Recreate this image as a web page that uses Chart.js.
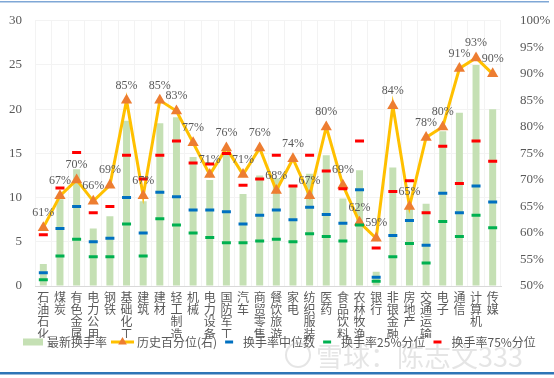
<!DOCTYPE html>
<html>
<head>
<meta charset="utf-8">
<script src="https://cdn.jsdelivr.net/npm/chart.js@4.4.1/dist/chart.umd.min.js"></script>
<style>
html, body { margin: 0; padding: 0; background: #fff; }
</style>
</head>
<body>
<canvas id="myChart" width="554" height="378"></canvas>
<script>
// industries (x axis), drawn as vertical text
var industries = ['石油石化','煤炭','有色金属','电力公用','钢铁','基础化工','建筑','建材','轻工制造','机械',
    '电力设备','国防军工','汽车','商贸零售','餐饮旅游','家电','纺织服装','医药','食品饮料','农林牧渔',
    '银行','非银金融','房地产','交通运输','电子','通信','计算机','传媒'];

// latest turnover (left axis)
var latestTurnover = [2.5, 9.8, 13.2, 6.5, 7.9, 18.7, 9.6, 18.4, 19.1, 14.6,
    12.0, 15.0, 10.4, 12.5, 12.2, 11.3, 12.7, 14.8, 9.9, 13.1,
    1.6, 13.4, 8.9, 9.3, 17.5, 19.6, 25.0, 20.0];

// historical percentile, % (right axis)
var histPercentile = [61, 67, 70, 66, 69, 85, 67, 85, 83, 77,
    71, 76, 71, 76, 68, 74, 67, 80, 69, 62,
    59, 84, 65, 78, 80, 91, 93, 90];

// turnover median / 25% / 75% quantiles (left axis)
var turnoverMedian = [1.5, 6.5, 9.0, 5.0, 5.4, 10.0, 6.0, 10.6, 10.1, 8.6,
    8.6, 8.4, 7.0, 8.0, 8.6, 7.5, 8.9, 8.1, 7.1, 10.9,
    1.0, 5.7, 7.4, 4.6, 10.5, 8.3, 11.3, 9.5];
var turnoverQ25 = [0.7, 3.4, 5.3, 3.3, 3.3, 7.0, 3.4, 7.6, 6.9, 6.0,
    5.5, 4.9, 4.9, 5.1, 5.3, 5.0, 5.9, 5.6, 5.1, 6.9,
    0.55, 3.3, 4.8, 2.6, 7.3, 5.6, 8.0, 6.6];
var turnoverQ75 = [5.8, 11.1, 15.1, 8.3, 9.0, 14.8, 12.1, 14.8, 16.4, 13.9,
    13.8, 15.0, 11.4, 12.1, 14.8, 11.3, 14.8, 13.0, 11.0, 16.4,
    4.3, 10.7, 11.9, 8.3, 15.8, 11.6, 16.4, 14.1];

var leftTicks = [0, 5, 10, 15, 20, 25, 30];
var rightTicks = [50, 55, 60, 65, 70, 75, 80, 85, 90, 95, 100];

var serif = '"Liberation Serif", "Times New Roman", serif';
var cjk = '"Noto Sans CJK SC", sans-serif';
var grey = '#595959';

var legendItems = [
    { type: 'rect', color: '#C5E0B4', text: '最新换手率' },
    { type: 'tri', color: '#FFC000', text: '历史百分位(右)' },
    { type: 'dash', color: '#0070C0', text: '换手率中位数' },
    { type: 'dash', color: '#00B050', text: '换手率25%分位' },
    { type: 'dash', color: '#FF0000', text: '换手率75%分位' }
];

function drawTri(c, x, y, r, color) {
    c.beginPath();
    c.moveTo(x, y - r);
    c.lineTo(x + r * 0.866, y + r * 0.5);
    c.lineTo(x - r * 0.866, y + r * 0.5);
    c.closePath();
    c.fillStyle = color;
    c.fill();
}

var extras = {
    id: 'extras',
    beforeDraw: function(chart) {
        var c = chart.ctx;
        c.save();
        c.fillStyle = '#7FA7D6';
        c.fillRect(0, 1, 549, 1.5);
        c.fillStyle = '#2E75B6';
        c.fillRect(0, 372, 554, 2.5);
        c.restore();
    },
    afterDatasetsDraw: function(chart) {
        // percentile labels above the triangles
        var c = chart.ctx;
        var meta = chart.getDatasetMeta(1);
        c.save();
        c.font = '12px ' + serif;
        c.fillStyle = grey;
        c.textAlign = 'center';
        c.textBaseline = 'middle';
        meta.data.forEach(function(pt, i) {
            c.fillText(histPercentile[i] + '%', pt.x, pt.y - 15);
        });
        c.restore();
    },
    afterDraw: function(chart) {
        var c = chart.ctx;
        c.save();
        var y = 342;
        var x = 23;
        c.font = '12px ' + cjk;
        c.textBaseline = 'middle';
        legendItems.forEach(function(it, i) {
            if (it.type == 'rect') {
                c.fillStyle = it.color;
                c.fillRect(x, y - 3.5, 20, 7);
                x += 24;
            } else if (it.type == 'tri') {
                c.strokeStyle = it.color;
                c.lineWidth = 3;
                c.beginPath();
                c.moveTo(x, y); c.lineTo(x + 23, y);
                c.stroke();
                drawTri(c, x + 11.5, y, 5, '#ED7D31');
                x += 26;
            } else {
                c.strokeStyle = it.color;
                c.lineWidth = 3;
                c.beginPath();
                c.moveTo(x, y); c.lineTo(x + 8, y);
                c.stroke();
                x += 18;
            }
            c.fillStyle = grey;
            c.fillText(it.text, x, y);
            x += c.measureText(it.text).width + (i == 0 ? 4 : 8);
        });
        // watermark
        c.strokeStyle = 'rgba(170,170,170,0.3)';
        c.lineWidth = 2;
        c.beginPath();
        c.arc(298, 355, 12, 0, Math.PI * 2);
        c.stroke();
        c.font = '27px ' + cjk;
        c.fillStyle = 'rgba(170,170,170,0.3)';
        c.fillText('雪球：陈志文333', 316, 357);
        c.restore();
    }
};

function dashSet(label, data, color, ord) {
    return {
        type: 'line',
        label: label,
        data: data,
        yAxisID: 'y',
        showLine: false,
        pointStyle: 'line',
        pointRadius: 4.5,
        borderColor: color,
        backgroundColor: color,
        pointBorderWidth: 3,
        borderWidth: 3,
        order: ord
    };
}

var ctx = document.getElementById('myChart').getContext('2d');
var myChart = new Chart(ctx, {
    type: 'bar',
    data: {
        labels: industries.map(function(s) { return s.split(''); }),
        datasets: [
            {
                label: '最新换手率',
                data: latestTurnover,
                backgroundColor: '#C5E0B4',
                barPercentage: 0.42,
                categoryPercentage: 1,
                yAxisID: 'y',
                order: 5
            },
            {
                type: 'line',
                label: '历史百分位(右)',
                data: histPercentile,
                yAxisID: 'y1',
                borderColor: '#FFC000',
                borderWidth: 3,
                pointStyle: 'triangle',
                pointRadius: 6.5,
                pointBackgroundColor: '#ED7D31',
                pointBorderColor: '#ED7D31',
                pointBorderWidth: 0,
                tension: 0,
                order: 4
            },
            dashSet('换手率中位数', turnoverMedian, '#0070C0', 3),
            dashSet('换手率25%分位', turnoverQ25, '#00B050', 2),
            dashSet('换手率75%分位', turnoverQ75, '#FF0000', 1)
        ]
    },
    options: {
        responsive: false,
        animation: false,
        layout: { padding: { top: 16, bottom: 40, left: 0, right: 0 } },
        plugins: {
            legend: { display: false },
            tooltip: { enabled: false }
        },
        scales: {
            x: {
                grid: { color: '#f3f3f3', drawTicks: false },
                border: { color: '#d9d9d9' },
                ticks: {
                    autoSkip: false,
                    maxRotation: 0,
                    minRotation: 0,
                    padding: 5,
                    color: grey,
                    font: { family: cjk, size: 12, lineHeight: 1.03 }
                },
                afterFit: function(s) { s.height = 52; }
            },
            y: {
                position: 'left',
                min: 0,
                max: 30,
                afterBuildTicks: function(s) { s.ticks = leftTicks.map(function(v) { return { value: v }; }); },
                grid: { color: '#f3f3f3', drawTicks: false },
                border: { display: false },
                ticks: { padding: 13, color: grey, font: { family: serif, size: 13 } },
                afterFit: function(s) { s.width = 35; }
            },
            y1: {
                position: 'right',
                min: 50,
                max: 100,
                afterBuildTicks: function(s) { s.ticks = rightTicks.map(function(v) { return { value: v }; }); },
                grid: { display: false },
                border: { display: false },
                ticks: {
                    padding: 11,
                    color: grey,
                    font: { family: serif, size: 13 },
                    callback: function(v) { return v + '%'; }
                },
                afterFit: function(s) { s.width = 53; }
            }
        }
    },
    plugins: [extras]
});
</script>
</body>
</html>
